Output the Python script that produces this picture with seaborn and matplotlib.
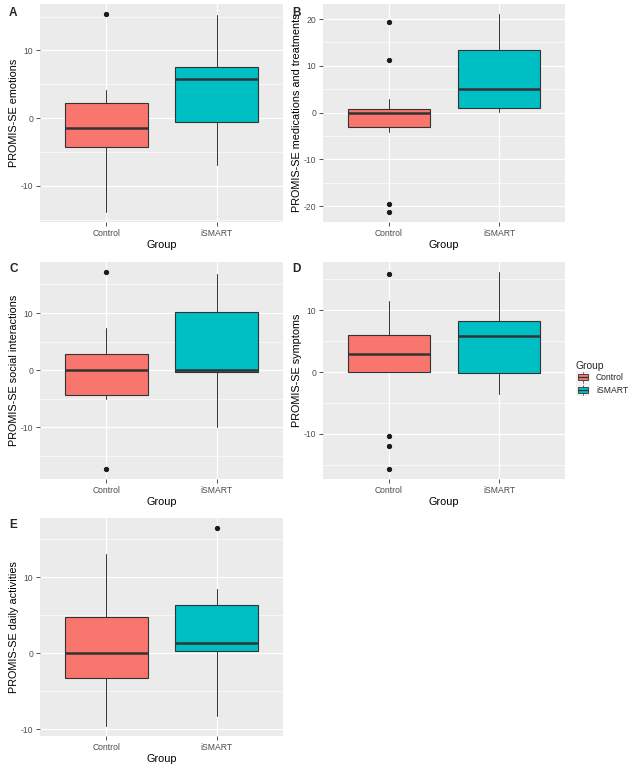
import matplotlib
matplotlib.use("Agg")
import matplotlib.pyplot as plt
import seaborn as sns
import numpy as np
from matplotlib.legend_handler import HandlerBase
from matplotlib.patches import Rectangle, Patch
from matplotlib.lines import Line2D
from matplotlib.ticker import MultipleLocator

groups = ["Control", "iSMART"]
colors = ["#F8766D", "#00BFC4"]

panels = ["A", "B", "C", "D", "E"]
ylabels = ["PROMIS-SE emotions",
           "PROMIS-SE medications and treatments",
           "PROMIS-SE social interactions",
           "PROMIS-SE symptoms",
           "PROMIS-SE daily activities"]

# box statistics per panel, [Control, iSMART]
whislo = [[-13.9, -7.0], [-4.1, 0.1], [-5.0, -9.85], [0.0, -3.5], [-9.6, -8.3]]
q1 = [[-4.3, -0.65], [-3.15, 1.05], [-4.4, -0.35], [0.0, -0.2], [-3.3, 0.35]]
med = [[-1.4, 5.75], [0.0, 5.1], [0.0, 0.0], [2.9, 5.9], [0.0, 1.4]]
q3 = [[2.2, 7.6], [0.65, 13.4], [2.9, 10.1], [6.0, 8.3], [4.8, 6.3]]
whishi = [[4.2, 15.3], [2.85, 21.1], [7.4, 16.9], [11.5, 16.2], [13.1, 8.4]]
fliers = [[[15.4], []],
          [[19.4, 11.3, -19.5, -21.3], []],
          [[17.2, -17.3], []],
          [[15.9, -10.35, -11.95, -15.7], []],
          [[], [16.5]]]

sns.set_theme(style="darkgrid", rc={
    "axes.facecolor": "#EBEBEB",
    "grid.color": "white",
    "axes.edgecolor": "none",
    "xtick.bottom": True,
    "ytick.left": True,
    "xtick.color": "#333333",
    "ytick.color": "#333333",
    "xtick.labelcolor": "#4D4D4D",
    "ytick.labelcolor": "#4D4D4D",
    "xtick.major.size": 3.0,
    "ytick.major.size": 3.0,
    "xtick.major.width": 0.6,
    "ytick.major.width": 0.6,
    "xtick.major.pad": 1.8,
    "ytick.major.pad": 1.8,
    "xtick.labelsize": 6.2,
    "ytick.labelsize": 6.2,
    "axes.labelsize": 7.8,
    "axes.labelcolor": "black",
    "axes.unicode_minus": False,
})
plt.rcParams["font.family"] = ["Liberation Sans", "DejaVu Sans"]

W, H = 642, 770
fig = plt.figure(figsize=(W / 100, H / 100), dpi=100)

rects = [(40, 4, 283, 222), (323, 4, 565, 222), (40, 262, 283, 479),
         (323, 262, 565, 479), (40, 518, 283, 736)]
letter_pos = [(9, 7), (292, 7), (9, 263), (292, 263), (9, 519)]

for i in range(5):
    x0, y0, x1, y1 = rects[i]
    ax = fig.add_axes([x0 / W, 1 - y1 / H, (x1 - x0) / W, (y1 - y0) / H])
    stats = []
    for g in range(2):
        stats.append(dict(label=groups[g], whislo=whislo[i][g], q1=q1[i][g], med=med[i][g],
                          q3=q3[i][g], whishi=whishi[i][g], fliers=fliers[i][g]))
    bp = ax.bxp(stats, positions=[1, 2], widths=0.75, patch_artist=True, showcaps=False,
                boxprops=dict(edgecolor="#333333", linewidth=0.8),
                medianprops=dict(color="#333333", linewidth=1.8, solid_capstyle="butt"),
                whiskerprops=dict(color="#333333", linewidth=0.7),
                flierprops=dict(marker="o", markerfacecolor="#1A1A1A", markeredgecolor="#1A1A1A",
                                markersize=2.8))
    for patch, c in zip(bp["boxes"], colors):
        patch.set_facecolor(c)
    for el in bp["boxes"] + bp["medians"] + bp["whiskers"] + bp["fliers"]:
        el.set_zorder(3)

    allv = np.array(whislo[i] + whishi[i] + sum(fliers[i], []))
    lo, hi = allv.min(), allv.max()
    pad = 0.05 * (hi - lo)
    ax.set_ylim(lo - pad, hi + pad)
    ax.set_xlim(0.4, 2.6)
    ax.yaxis.set_major_locator(MultipleLocator(10))
    ax.yaxis.set_minor_locator(MultipleLocator(5))
    ax.grid(which="major", color="white", linewidth=0.9)
    ax.grid(which="minor", axis="y", color="white", linewidth=0.45)
    ax.tick_params(which="minor", length=0)
    ax.set_xticks([1, 2])
    ax.set_xticklabels(groups)
    ax.set_axisbelow(True)
    ax.set_xlabel("Group", labelpad=2)
    ax.set_ylabel(ylabels[i])
    ax.yaxis.set_label_coords(-20.5 / (x1 - x0), 0.5)
    fig.text(letter_pos[i][0] / W, 1 - letter_pos[i][1] / H, panels[i],
             fontsize=8.5, fontweight="bold", va="top", ha="left")


class BoxKey(HandlerBase):
    def create_artists(self, legend, orig_handle, xdescent, ydescent, width, height,
                       fontsize, trans):
        fc = orig_handle.get_facecolor()
        x0, y0 = -xdescent, -ydescent
        bg = Rectangle((x0, y0), width, height, facecolor="#F2F2F2", edgecolor="none",
                       transform=trans)
        box = Rectangle((x0 + 0.12 * width, y0 + 0.25 * height), 0.76 * width, 0.5 * height,
                        facecolor=fc, edgecolor="#333333", lw=0.6, transform=trans)
        cx = x0 + width / 2
        wlo = Line2D([cx, cx], [y0 + 0.08 * height, y0 + 0.25 * height], color="#333333",
                     lw=0.5, transform=trans)
        whi = Line2D([cx, cx], [y0 + 0.75 * height, y0 + 0.92 * height], color="#333333",
                     lw=0.5, transform=trans)
        mline = Line2D([x0 + 0.12 * width, x0 + 0.88 * width], [y0 + height / 2] * 2,
                       color="#333333", lw=0.9, transform=trans)
        return [bg, wlo, whi, box, mline]


handles = [Patch(facecolor=c) for c in colors]
leg = fig.legend(handles, groups, title="Group", loc="upper left",
                 bbox_to_anchor=(576 / W, 1 - 361 / H), frameon=False,
                 handler_map={Patch: BoxKey()}, fontsize=6.2, title_fontsize=7.4,
                 handlelength=1.63, handleheight=1.86, handletextpad=0.7,
                 labelspacing=0.0, borderpad=0, borderaxespad=0, alignment="left")

fig.savefig("out.png", dpi=100)
